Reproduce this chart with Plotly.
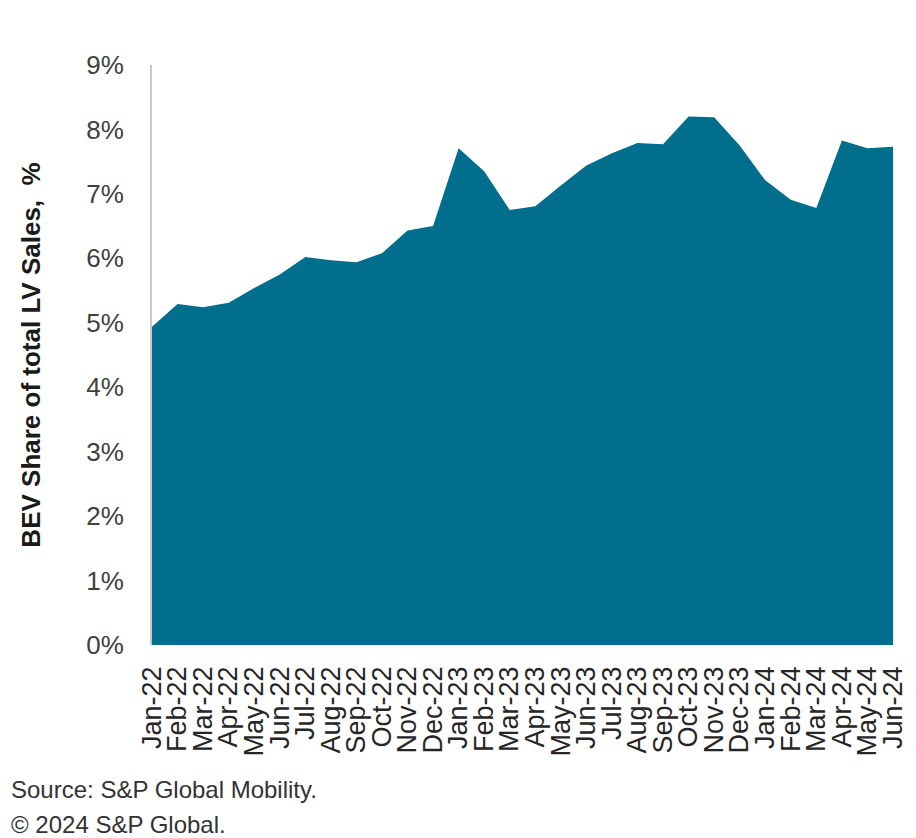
import plotly.graph_objects as go

months = ["Jan-22","Feb-22","Mar-22","Apr-22","May-22","Jun-22","Jul-22","Aug-22","Sep-22","Oct-22","Nov-22","Dec-22",
          "Jan-23","Feb-23","Mar-23","Apr-23","May-23","Jun-23","Jul-23","Aug-23","Sep-23","Oct-23","Nov-23","Dec-23",
          "Jan-24","Feb-24","Mar-24","Apr-24","May-24","Jun-24"]
bev_share = [4.94, 5.29, 5.24, 5.31, 5.54, 5.75, 6.02, 5.97, 5.94, 6.08, 6.43, 6.50,
             7.71, 7.35, 6.75, 6.81, 7.13, 7.44, 7.63, 7.79, 7.77, 8.20, 8.19, 7.75,
             7.21, 6.91, 6.78, 7.83, 7.71, 7.73]
y_ticks = [0, 1, 2, 3, 4, 5, 6, 7, 8, 9]
y_tick_labels = [f"{v}%" for v in y_ticks]

# page body has an 8px margin, so the figure is sized to fit the 916x838 window
W, H = 908, 830
L, T, PW, PH = 144, 57, 741, 580

fig = go.Figure()
fig.add_trace(go.Scatter(
    x=list(range(len(months))), y=bev_share,
    mode="lines", fill="tozeroy",
    line=dict(color="#006e8c", width=0),
    fillcolor="#006e8c",
    hoverinfo="skip",
))

fig.update_layout(
    width=W, height=H,
    margin=dict(l=L, r=W - L - PW, t=T, b=H - T - PH, autoexpand=False),
    paper_bgcolor="white", plot_bgcolor="white",
    showlegend=False,
    font=dict(family="Arial, Liberation Sans, sans-serif", color="#333333"),
    xaxis=dict(
        range=[0, len(months) - 1],
        tickmode="array",
        tickvals=list(range(len(months))),
        ticktext=months,
        tickangle=-90,
        tickfont=dict(size=27, color="#262626"),
        showgrid=False, zeroline=False, showline=False,
        ticks="", ticklabelstandoff=15, fixedrange=True,
    ),
    yaxis=dict(
        range=[0, 9],
        tickmode="array",
        tickvals=y_ticks,
        ticktext=y_tick_labels,
        tickfont=dict(size=26, color="#404040"),
        showgrid=False, zeroline=False,
        showline=True, linecolor="#c8c8c8", linewidth=2,
        ticks="", ticklabelstandoff=21,
        title=dict(text="<b>BEV Share of total LV Sales,  %</b>",
                   font=dict(size=26, color="#1a1a1a"), standoff=38),
    ),
)

fig.add_annotation(text="Source: S&P Global Mobility.", xref="paper", yref="paper",
                   x=(1 - L) / PW, y=-(781 - (T + PH)) / PH, xanchor="left", yanchor="middle",
                   showarrow=False, font=dict(size=24, color="#333333"))
fig.add_annotation(text="© 2024 S&P Global.", xref="paper", yref="paper",
                   x=(1 - L) / PW, y=-(816 - (T + PH)) / PH, xanchor="left", yanchor="middle",
                   showarrow=False, font=dict(size=24, color="#333333"))

fig.write_html("out.html")
